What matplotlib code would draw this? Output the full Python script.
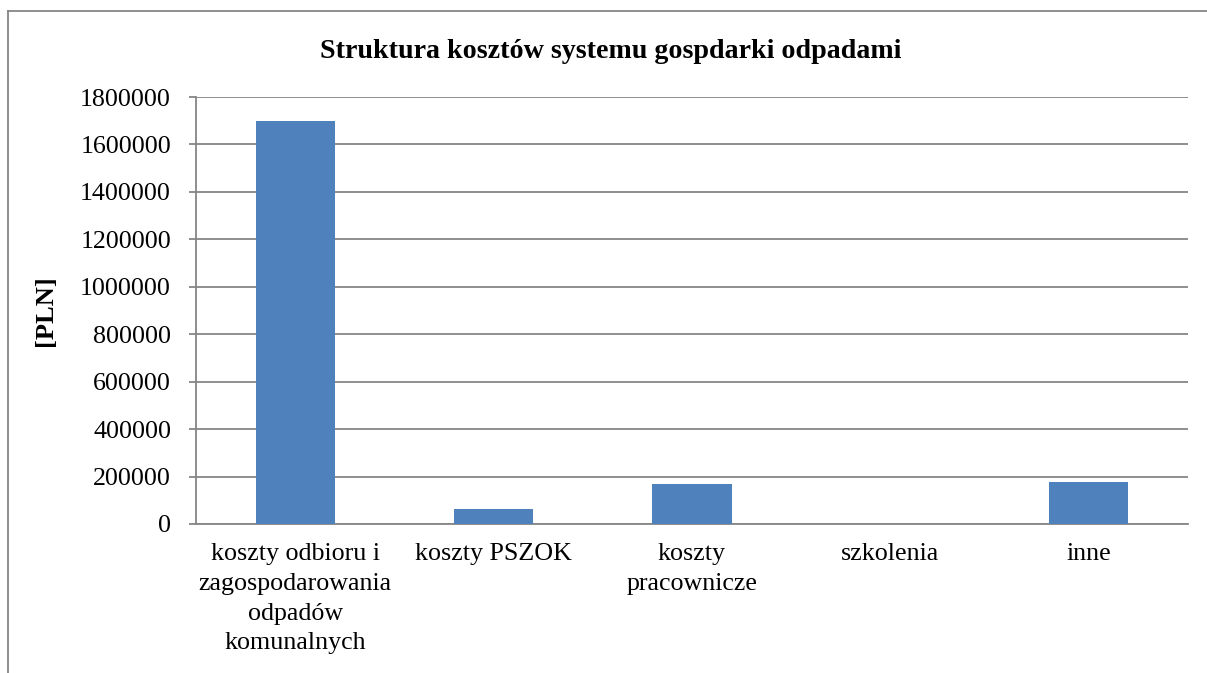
import matplotlib.pyplot as plt
from matplotlib.lines import Line2D

##### data
categories = ['koszty odbioru i\nzagospodarowania\nodpadów\nkomunalnych', 'koszty PSZOK',
              'koszty\npracownicze', 'szkolenia', 'inne']
costs = [1700000, 63000, 170000, 0, 178000]
yticks = [0, 200000, 400000, 600000, 800000, 1000000, 1200000, 1400000, 1600000, 1800000]

plt.rcParams['font.family'] = ['Liberation Serif', 'DejaVu Serif']

fig = plt.figure(figsize=(12.07, 6.73), dpi=100)
ax = fig.add_axes([196/1207, 1 - 524/673, 992/1207, 427/673])

gray = '#868686'
ax.bar(range(len(categories)), costs, width=0.4, color='#4F81BD', zorder=3)
ax.set_xlim(-0.5, len(categories) - 0.5)
ax.set_ylim(0, 1800000)
ax.set_yticks(yticks)
ax.set_yticklabels([str(v) for v in yticks], fontsize=18.7)
ax.set_xticks(range(len(categories)))
ax.set_xticklabels(categories, fontsize=18.7, linespacing=1.45, va='top')
ax.tick_params(axis='y', length=5, color=gray, width=1.3, pad=13)
ax.tick_params(axis='x', length=0, pad=14)
ax.yaxis.grid(True, color=gray, linewidth=1.3, zorder=0)
for s in ['top', 'right']:
    ax.spines[s].set_visible(False)
for s in ['left', 'bottom']:
    ax.spines[s].set_color(gray)
    ax.spines[s].set_linewidth(1.3)

ax.set_ylabel('[PLN]', fontsize=19, fontweight='bold', labelpad=17)
fig.text(611/1207, 1 - 52/673, 'Struktura kosztów systemu gospdarki odpadami',
         ha='center', va='center', fontsize=20.2, fontweight='bold')

# chart area border (only top and left visible)
fig.add_artist(Line2D([7.5/1207, 7.5/1207], [0, 1 - 11/673], color=gray, linewidth=1.3))
fig.add_artist(Line2D([7.5/1207, 1], [1 - 11/673, 1 - 11/673], color=gray, linewidth=1.3))

fig.savefig('out.png', dpi=100)
